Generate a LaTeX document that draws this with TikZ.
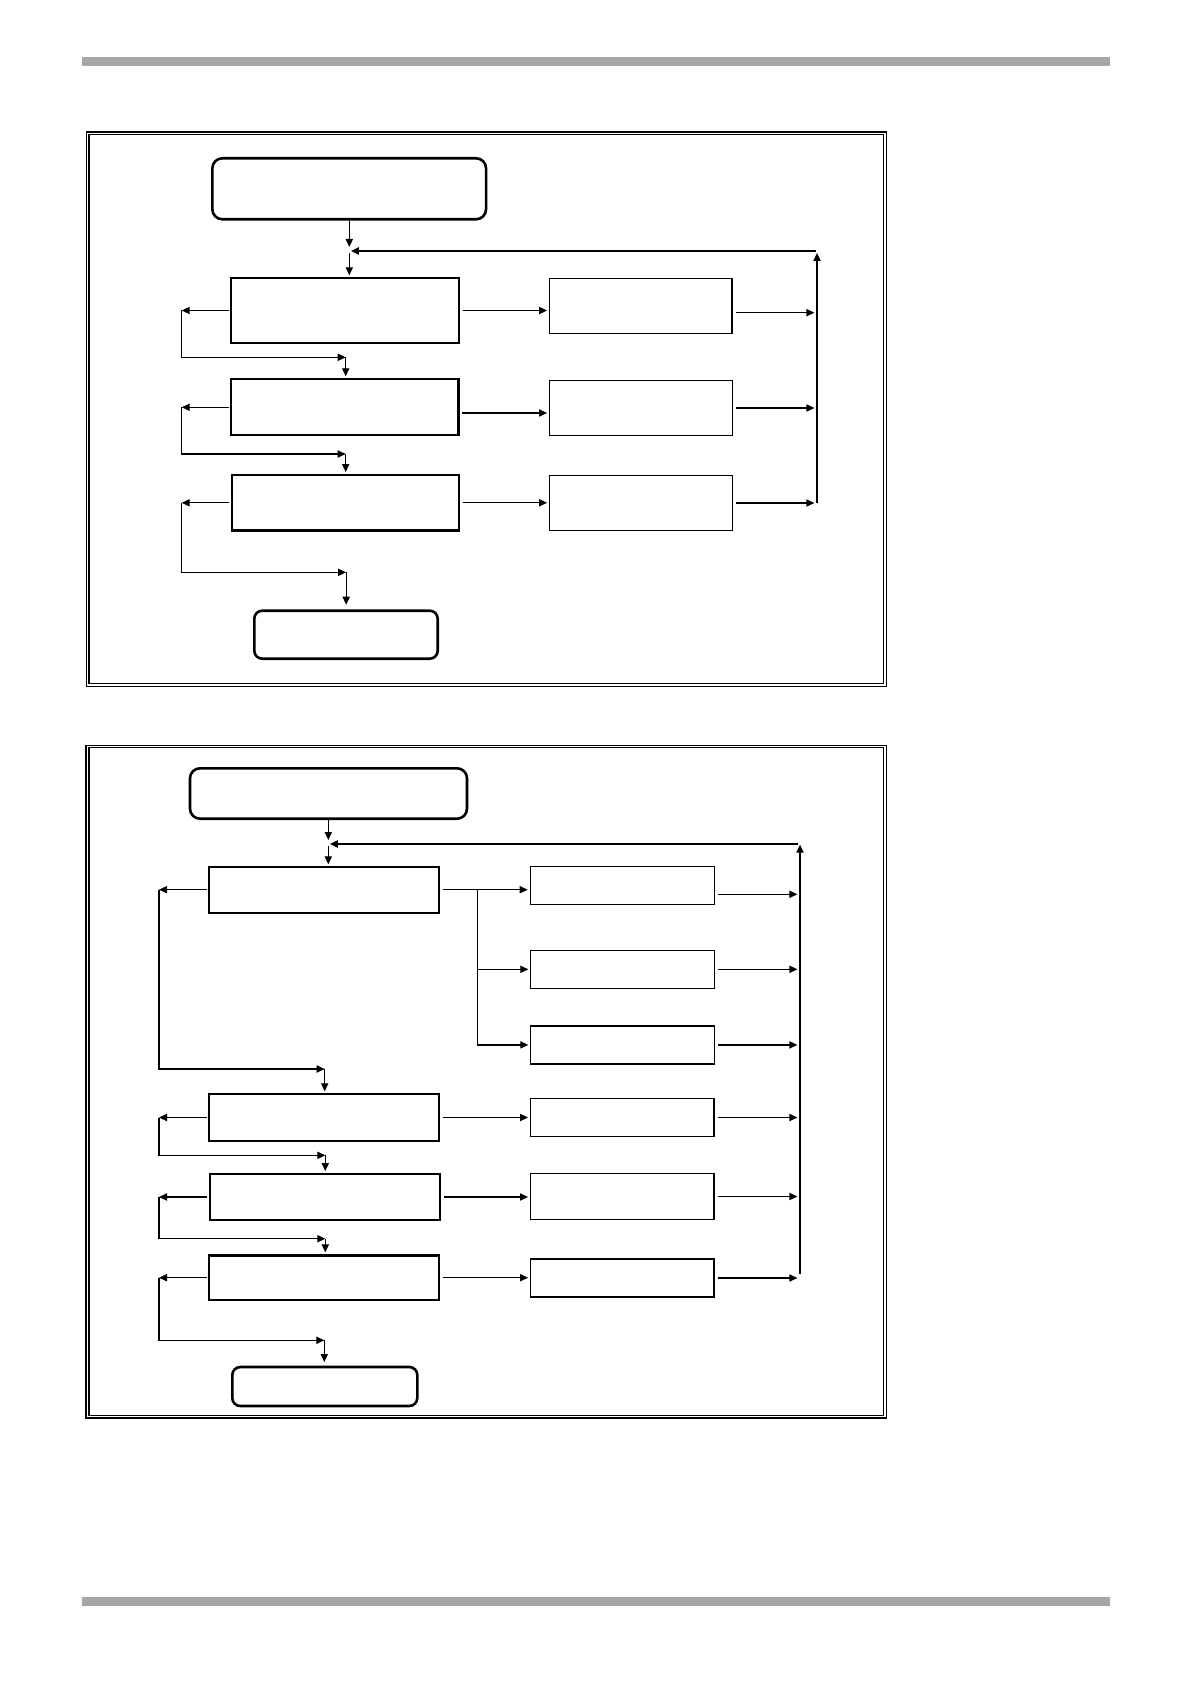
\documentclass[tikz,border=0pt]{standalone}
\usetikzlibrary{arrows.meta,calc}
\definecolor{bargray}{HTML}{A6A6A6}
\begin{document}
\begin{tikzpicture}[x=0.5pt,y=-0.5pt,
  thickbox/.style={draw=black,line width=1.15pt,inner sep=0pt,outer sep=0pt},
  thinbox/.style={draw=black,line width=0.75pt,inner sep=0pt,outer sep=0pt},
  roundbox/.style={draw=black,line width=1.3pt,rounded corners=5pt,inner sep=0pt,outer sep=0pt},
  frameline/.style={draw=black,line width=0.75pt},
  conn/.style={line width=0.6pt},
  arr/.style={conn,-{Triangle[length=4pt,width=3.6pt]}},
  fbarr/.style={line width=0.75pt,-{Triangle[length=4pt,width=3.6pt]}},
  rarr/.style={arr,shorten <=1.8pt,shorten >=1.3pt},
  larr/.style={arr,shorten <=1.1pt},
  darr/.style={arr,shorten >=1.5pt}
]
\useasboundingbox (0,0) rectangle (1190,1684);
\fill[white] (0,0) rectangle (1190,1684);
% header and footer bars
\fill[bargray] (82,57) rectangle (1110,65.7);
\fill[bargray] (82,1597) rectangle (1110,1605.7);

% ================= TOP DIAGRAM =================
\draw[frameline] (86.5,132) rectangle (886.3,686.3);
\draw[frameline] (89,134.4) rectangle (883.5,683.5);

\node[roundbox,minimum width=136.85pt,minimum height=30.5pt] (S1) at (349.2,188.8) {};
\node[thickbox,minimum width=114pt,minimum height=32.8pt] (b1) at (345,310.5) {};
\node[thickbox,minimum width=113.65pt,minimum height=28pt] (b2) at (344.7,407.3) {};
\node[thickbox,minimum width=113.65pt,minimum height=27.75pt] (b3) at (345.3,502.8) {};
\node[thinbox,minimum width=91.15pt,minimum height=27.5pt] (A) at (640.8,306.2) {};
\node[thinbox,minimum width=91.3pt,minimum height=27.3pt] (B) at (641,408) {};
\node[thinbox,minimum width=91.3pt,minimum height=27.7pt] (C) at (641,503) {};
\node[roundbox,rounded corners=4pt,minimum width=91.7pt,minimum height=24pt] (E1) at (346,634.7) {};

\coordinate (J1) at (349.3,251);
\coordinate (R1t) at (817,251);
\coordinate (R1b) at (817,503);
\coordinate (LX1) at (181.7,0);
\coordinate (K1) at (345.7,357.3);
\coordinate (K2) at (345.7,454);
\coordinate (K3) at (346.2,572.3);

\draw[arr,shorten >=2pt] (S1.south -| J1) -- (J1);
\draw[arr,shorten <=1pt,shorten >=1.2pt] (J1) -- (J1 |- b1.north);
\draw[fbarr,shorten >=1pt] (R1b) -- (R1t);
\draw[fbarr,shorten <=0.6pt,shorten >=0.8pt] (R1t) -- (J1);

% middle-column to right column
\draw[rarr] (b1.east) -- (b1.east -| A.west);
\path (b2.east) ++(0,5.7) coordinate (b2r);
\draw[rarr] (b2r) -- (b2r -| B.west);
\draw[rarr] (b3.east) -- (b3.east -| C.west);
% right column to feedback line
\path (A.east) ++(0,6.5) coordinate (Ar);
\draw[rarr] (Ar) -- (Ar -| R1t);
\draw[rarr] (B.east) -- (B.east -| R1t);
\draw[rarr] (C.east) -- (C.east -| R1t);

% left loops
\draw[larr] (b1.west) -- (b1.west -| LX1);
\draw[arr] (b1.west -| LX1) |- (K1);
\draw[darr] (K1) -- (K1 |- b2.north);
\draw[larr] (b2.west) -- (b2.west -| LX1);
\draw[arr] (b2.west -| LX1) |- (K2);
\draw[darr] (K2) -- (K2 |- b3.north);
\draw[larr] (b3.west) -- (b3.west -| LX1);
\draw[arr] (b3.west -| LX1) |- (K3);
\draw[arr,shorten >=3pt] (K3) -- (K3 |- E1.north);

% ================= BOTTOM DIAGRAM =================
\draw[frameline] (86,745.3) rectangle (886.3,1418);
\draw[frameline] (88.9,747.6) rectangle (883.5,1415.5);

\node[roundbox,minimum width=138.5pt,minimum height=25.2pt] (S2) at (328.5,793.5) {};
\node[thickbox,minimum width=115pt,minimum height=23pt] (c1) at (324,889.7) {};
\node[thickbox,minimum width=115pt,minimum height=23.2pt] (c2) at (324,1117.5) {};
\node[thickbox,minimum width=115.15pt,minimum height=23pt] (c3) at (324.8,1197) {};
\node[thickbox,minimum width=115pt,minimum height=22.35pt] (c4) at (324,1277.7) {};
\node[thinbox,minimum width=92pt,minimum height=18.8pt] (D) at (622.3,885.5) {};
\node[thinbox,minimum width=92pt,minimum height=19pt] (E) at (622.3,969.3) {};
\node[thinbox,minimum width=92pt,minimum height=18.85pt] (F) at (622.3,1044.9) {};
\node[thinbox,minimum width=91.65pt,minimum height=18.8pt] (G) at (622.3,1117.5) {};
\node[thinbox,minimum width=91.65pt,minimum height=22.8pt] (H) at (622.3,1196.5) {};
\node[thinbox,minimum width=91.65pt,minimum height=19pt] (I) at (622.3,1278) {};
\node[roundbox,rounded corners=4pt,minimum width=92.5pt,minimum height=19.5pt] (E2) at (324.8,1386.5) {};

\coordinate (J2) at (328.3,844);
\coordinate (R2t) at (800,844);
\coordinate (R2b) at (800,1274);
\coordinate (LX2) at (159,0);
\coordinate (BR) at (477.3,889.7);
\coordinate (M1) at (324.7,1069);
\coordinate (M2) at (325.3,1155.3);
\coordinate (M3) at (325.3,1238.7);
\coordinate (M4) at (324.3,1340.3);

\draw[arr,shorten >=2pt] (S2.south -| J2) -- (J2);
\draw[arr,shorten <=1pt,shorten >=1.2pt] (J2) -- (J2 |- c1.north);
\draw[fbarr,shorten >=0.3pt] (R2b) -- (R2t);
\draw[fbarr,shorten <=0.8pt,shorten >=0.8pt] (R2t) -- (J2);

% first step fans out to three boxes
\draw[rarr] (c1.east) -- (c1.east -| D.west);
\draw[conn] (BR) -- (BR |- F.west);
\draw[arr,shorten >=1pt] (BR |- E.west) -- (E.west);
\draw[arr,shorten >=1pt] (BR |- F.west) -- (F.west);
\draw[rarr] (c2.east) -- (c2.east -| G.west);
\draw[rarr] (c3.east) -- (c3.east -| H.west);
\draw[rarr] (c4.east) -- (c4.east -| I.west);

% right column to feedback line
\path (D.east) ++(0,8.8) coordinate (Dr);
\draw[rarr] (Dr) -- (Dr -| R2t);
\draw[rarr] (E.east) -- (E.east -| R2t);
\draw[rarr] (F.east) -- (F.east -| R2t);
\draw[rarr] (G.east) -- (G.east -| R2t);
\draw[rarr] (H.east) -- (H.east -| R2t);
\draw[rarr] (I.east) -- (I.east -| R2t);

% left loops
\draw[larr] (c1.west) -- (c1.west -| LX2);
\draw[arr] (c1.west -| LX2) |- (M1);
\draw[darr] (M1) -- (M1 |- c2.north);
\draw[larr] (c2.west) -- (c2.west -| LX2);
\draw[arr] (c2.west -| LX2) |- (M2);
\draw[darr] (M2) -- (M2 |- c3.north);
\draw[larr] (c3.west) -- (c3.west -| LX2);
\draw[arr] (c3.west -| LX2) |- (M3);
\draw[darr] (M3) -- (M3 |- c4.north);
\draw[larr] (c4.west) -- (c4.west -| LX2);
\draw[arr] (c4.west -| LX2) |- (M4);
\draw[arr,shorten >=2.5pt] (M4) -- (M4 |- E2.north);
\end{tikzpicture}
\end{document}
